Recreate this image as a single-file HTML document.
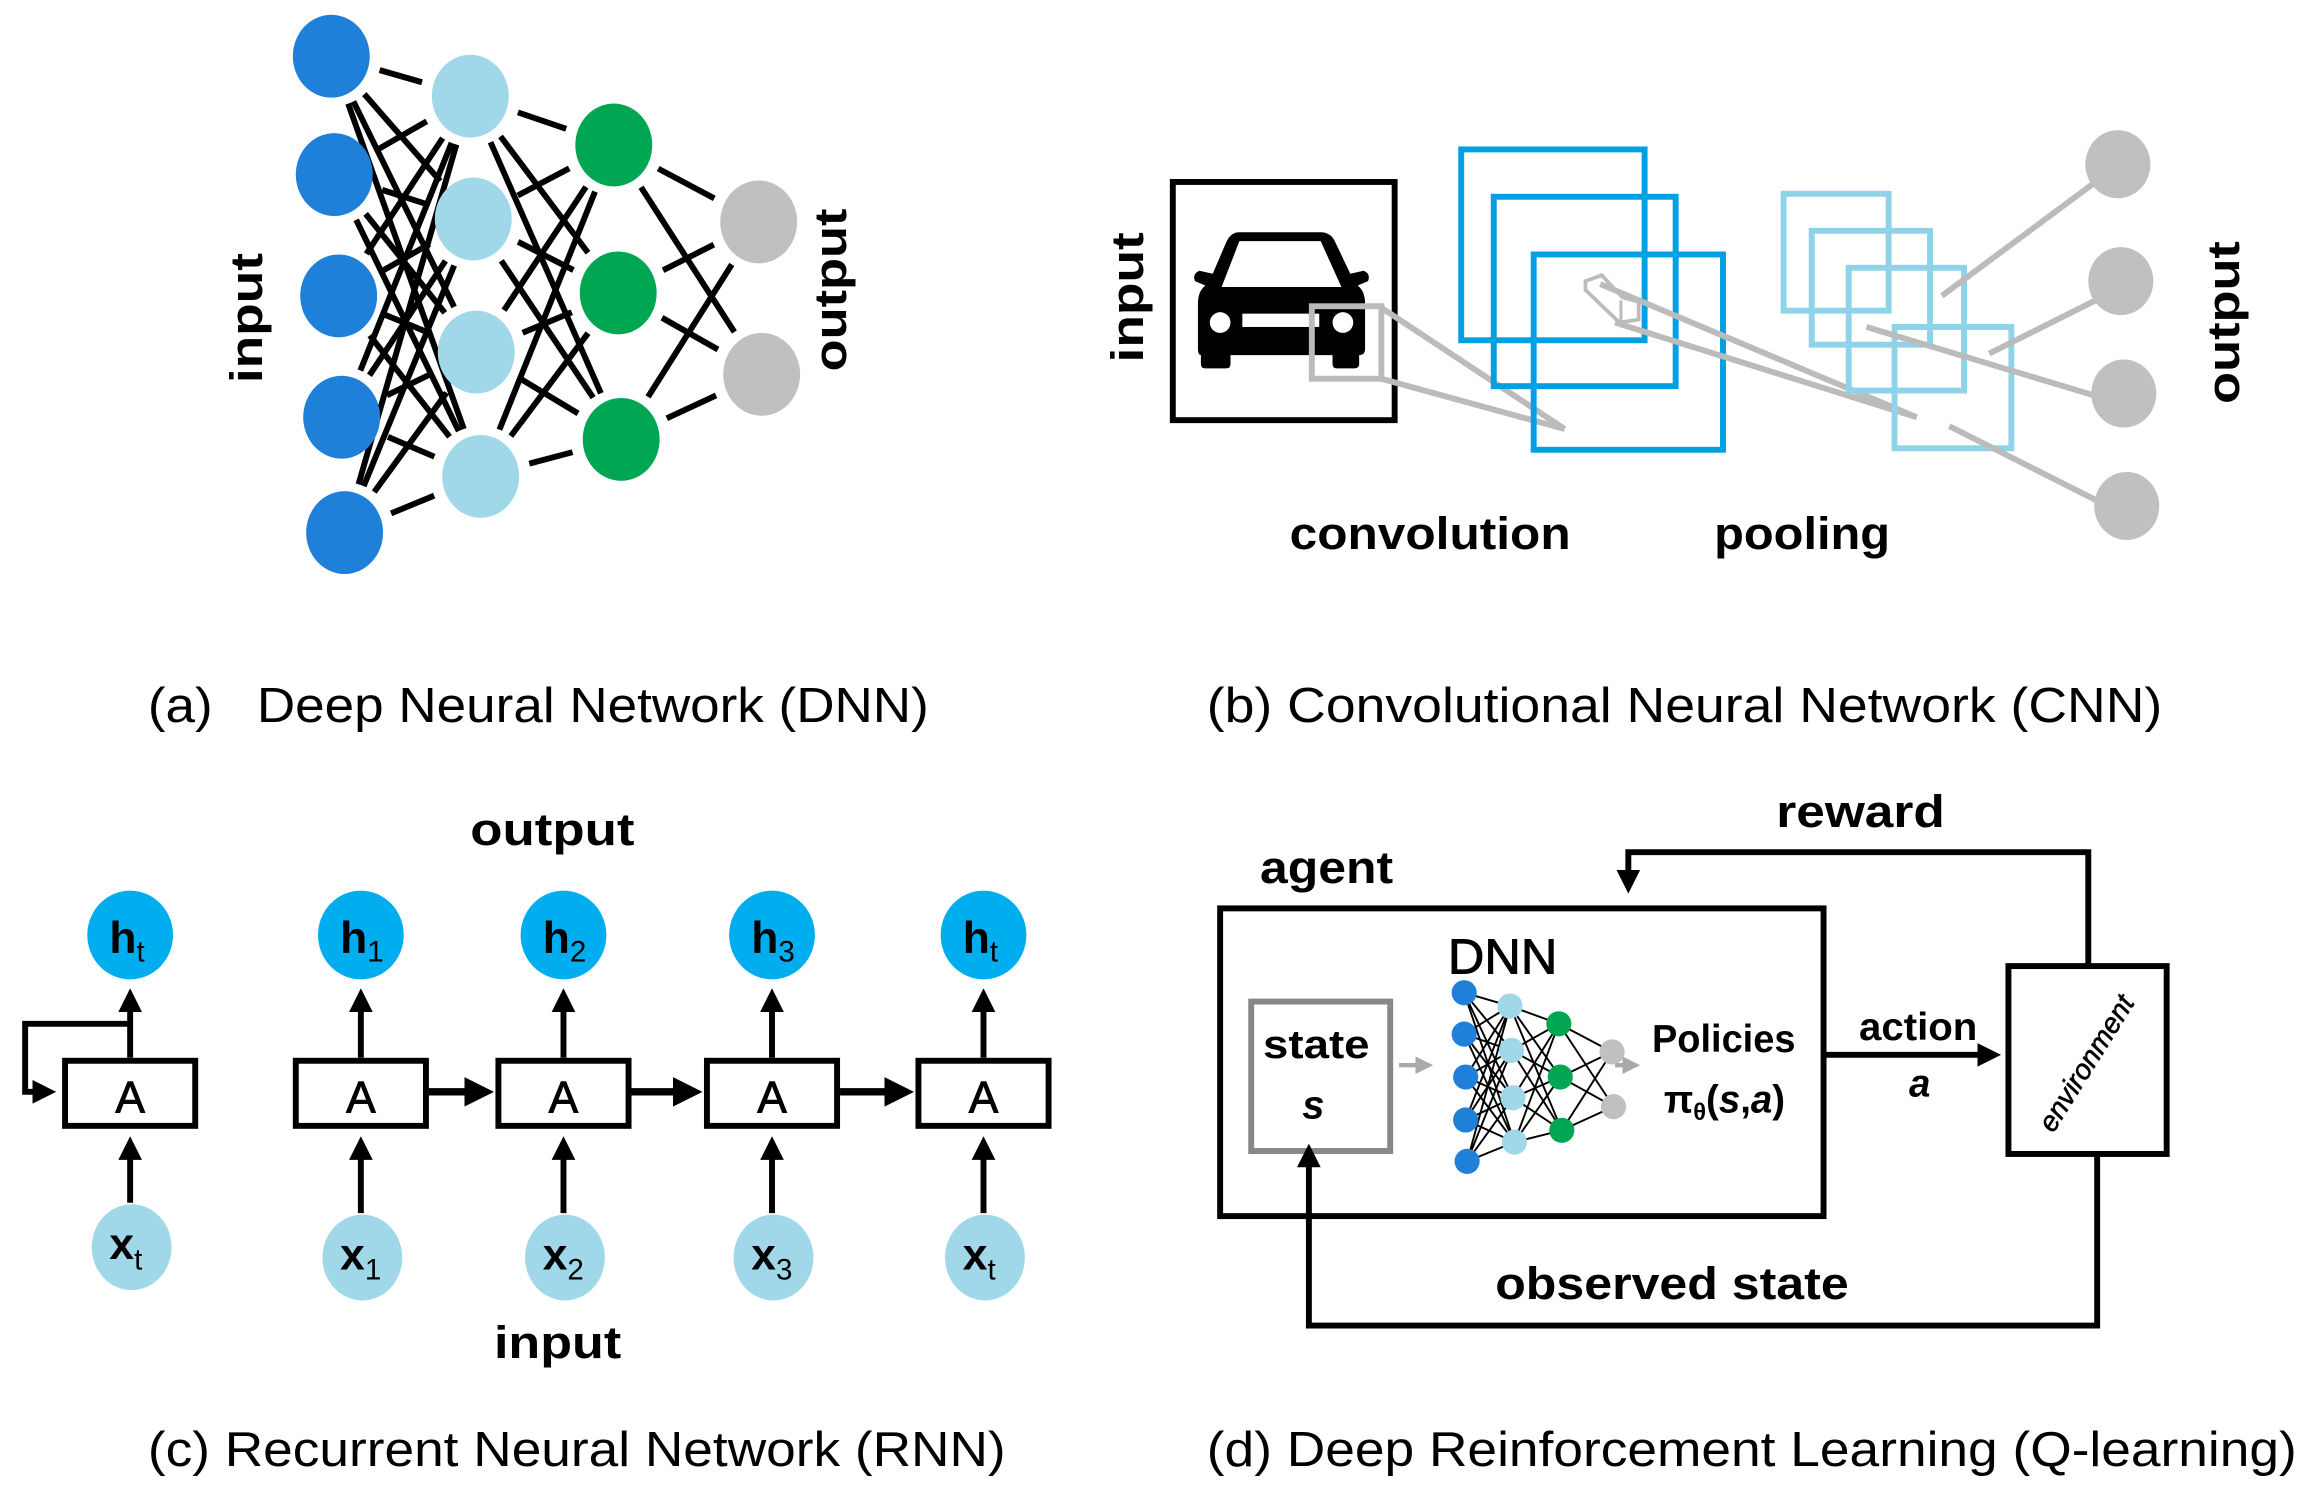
<!DOCTYPE html>
<html><head><meta charset="utf-8"><style>
html,body{margin:0;padding:0;background:#fff;}
svg{display:block;}
text{font-family:"Liberation Sans",sans-serif;}
.b{font-weight:bold;}
</style></head><body>
<svg id="s" width="2319" height="1512" viewBox="0 0 1568 1022" preserveAspectRatio="none" xmlns="http://www.w3.org/2000/svg">
<defs>
<marker id="ah" markerWidth="4" markerHeight="4" refX="3" refY="2" orient="auto" markerUnits="strokeWidth"><path d="M0,0 L4,2 L0,4 z" fill="#000"/></marker>
<marker id="ag" markerWidth="4" markerHeight="4" refX="3" refY="2" orient="auto" markerUnits="strokeWidth"><path d="M0,0 L4,2 L0,4 z" fill="#aaa"/></marker>
</defs>
<g id="dnn"></g>
<g id="mini"></g>
<!-- DNN labels -->
<text class="b" font-size="31" transform="translate(177,215) rotate(-90)" text-anchor="middle" textLength="88" lengthAdjust="spacingAndGlyphs">input</text>
<text class="b" font-size="31" transform="translate(572,196) rotate(-90)" text-anchor="middle" textLength="110" lengthAdjust="spacingAndGlyphs">output</text>
<text x="100" y="488" font-size="33" textLength="528" lengthAdjust="spacingAndGlyphs" xml:space="preserve">(a)   Deep Neural Network (DNN)</text>

<!-- CNN -->
<text class="b" font-size="31" transform="translate(773,201) rotate(-90)" text-anchor="middle" textLength="88" lengthAdjust="spacingAndGlyphs">input</text>
<rect x="793" y="123" width="150" height="161" fill="none" stroke="#000" stroke-width="4"/>
<!-- car -->
<path d="M838,157 L893,157 Q900,157 903,164 L913,185 L922,183 Q927,185 925,190 L918,193 Q923,197 923,205 L923,236 Q923,240 919,240 L919,246 Q919,249 915,249 L904,249 Q901,249 901,246 L901,240 L832,240 L832,246 Q832,249 829,249 L815,249 Q812,249 812,246 L812,240 Q810,240 810,236 L810,205 Q810,197 815,193 L808,190 Q806,185 811,183 L820,185 L829,164 Q832,157 838,157 Z" fill="#000"/>
<path d="M838,163 L893,163 L907,194 L826,194 Z" fill="#fff"/>
<circle cx="825" cy="218" r="7" fill="#fff"/>
<circle cx="908" cy="218" r="7" fill="#fff"/>
<rect x="840" y="212" width="52" height="9" fill="#fff"/>
<rect x="887" y="207" width="47" height="49" fill="none" stroke="#bbb" stroke-width="4"/>
<g stroke="#bbb" stroke-width="4" fill="none">
<line x1="934" y1="208" x2="1058" y2="290"/>
<line x1="934" y1="256" x2="1058" y2="290"/>
</g>
<g fill="none" stroke="#00a0e3" stroke-width="4">
<rect x="988" y="101" width="124" height="129"/>
<rect x="1010" y="133" width="123" height="128"/>
<rect x="1037" y="172" width="128" height="132"/>
</g>
<path d="M1072,190 L1083,186 L1097,201 L1108,204 L1108,216 L1095,218 L1072,196 Z" fill="#fff" stroke="#bbb" stroke-width="2.5"/>
<line x1="1096" y1="203" x2="1096" y2="218" stroke="#bbb" stroke-width="2"/>
<g stroke="#bbb" stroke-width="4">
<line x1="1082" y1="192" x2="1296" y2="282"/>
<line x1="1092" y1="218" x2="1296" y2="282"/>
</g>
<g fill="none" stroke="#8fd3e8" stroke-width="4">
<rect x="1206" y="131" width="71" height="79"/>
<rect x="1225" y="156" width="80" height="77"/>
<rect x="1250" y="181" width="78" height="83"/>
<rect x="1281" y="221" width="79" height="82"/>
</g>
<g stroke="#bbb" stroke-width="4">
<line x1="1313" y1="200" x2="1425" y2="117"/>
<line x1="1345" y1="239" x2="1427" y2="198"/>
<line x1="1262" y1="221" x2="1425" y2="270"/>
<line x1="1318" y1="288" x2="1427" y2="343"/>
</g>
<g fill="#c0c0c0">
<ellipse cx="1432" cy="111" rx="22" ry="23"/>
<ellipse cx="1434" cy="190" rx="22" ry="23"/>
<ellipse cx="1436" cy="266" rx="22" ry="23"/>
<ellipse cx="1438" cy="342" rx="22" ry="23"/>
</g>
<text class="b" font-size="31" transform="translate(1514,218) rotate(-90)" text-anchor="middle" textLength="110" lengthAdjust="spacingAndGlyphs">output</text>
<text class="b" x="872" y="371" font-size="31" textLength="190" lengthAdjust="spacingAndGlyphs">convolution</text>
<text class="b" x="1159" y="371" font-size="31" textLength="119" lengthAdjust="spacingAndGlyphs">pooling</text>
<text x="816" y="488" font-size="33" textLength="646" lengthAdjust="spacingAndGlyphs">(b) Convolutional Neural Network (CNN)</text>

<!-- RNN -->
<text class="b" x="318" y="571" font-size="31" textLength="111" lengthAdjust="spacingAndGlyphs">output</text>
<text class="b" x="334" y="918" font-size="31" textLength="86" lengthAdjust="spacingAndGlyphs">input</text>
<g id="rnn"></g>
<text x="100" y="991" font-size="33" textLength="580" lengthAdjust="spacingAndGlyphs">(c) Recurrent Neural Network (RNN)</text>

<!-- DRL -->
<text class="b" x="1201" y="559" font-size="31" textLength="114" lengthAdjust="spacingAndGlyphs">reward</text>
<text class="b" x="852" y="597" font-size="31" textLength="90" lengthAdjust="spacingAndGlyphs">agent</text>
<rect x="825" y="614" width="408" height="208" fill="none" stroke="#000" stroke-width="4"/>
<rect x="846" y="677" width="94" height="101" fill="none" stroke="#888" stroke-width="4"/>
<text class="b" x="854" y="715" font-size="27" textLength="72" lengthAdjust="spacingAndGlyphs">state</text>
<text class="b" x="888" y="756" font-size="27" font-style="italic" text-anchor="middle">s</text>
<text x="979" y="658" font-size="33" textLength="74" lengthAdjust="spacingAndGlyphs" stroke="#000" stroke-width="0.6">DNN</text>
<line x1="946" y1="720" x2="966" y2="720" stroke="#aaa" stroke-width="3" marker-end="url(#ag)"/>
<line x1="1092" y1="720" x2="1106" y2="720" stroke="#aaa" stroke-width="3" marker-end="url(#ag)"/>
<text class="b" x="1117" y="711" font-size="26" textLength="97" lengthAdjust="spacingAndGlyphs">Policies</text>
<text class="b" x="1125" y="752" font-size="26">π<tspan font-size="16" dy="5">θ</tspan><tspan dy="-5">(</tspan><tspan font-style="italic">s</tspan>,<tspan font-style="italic">a</tspan>)</text>
<line x1="1235" y1="713" x2="1349" y2="713" stroke="#000" stroke-width="4" marker-end="url(#ah)"/>
<text class="b" x="1257" y="703" font-size="26" textLength="80" lengthAdjust="spacingAndGlyphs">action</text>
<text class="b" x="1298" y="741" font-size="26" font-style="italic" text-anchor="middle">a</text>
<rect x="1358" y="653" width="107" height="127" fill="none" stroke="#000" stroke-width="4"/>
<text x="0" y="0" font-size="19" font-style="italic" text-anchor="middle" transform="translate(1416,722) rotate(-58)" stroke="#000" stroke-width="0.4">environment</text>
<polyline points="1412,653 1412,576 1101,576 1101,600" fill="none" stroke="#000" stroke-width="4" marker-end="url(#ah)"/>
<polyline points="1418,780 1418,896 885,896 885,777" fill="none" stroke="#000" stroke-width="4" marker-end="url(#ah)"/>
<text class="b" x="1011" y="878" font-size="31" textLength="239" lengthAdjust="spacingAndGlyphs">observed state</text>
<text x="816" y="991" font-size="33" textLength="737" lengthAdjust="spacingAndGlyphs">(d) Deep Reinforcement Learning (Q-learning)</text>
</svg>
<script>
var NS="http://www.w3.org/2000/svg";
function el(p,t,a,txt){var e=document.createElementNS(NS,t);for(var k in a)e.setAttribute(k,a[k]);if(txt!=null)e.textContent=txt;p.appendChild(e);return e;}
var L=[[[224,38],[226,118],[229,200],[231,282],[233,360]],[[318,65],[320,148],[322,238],[325,322]],[[415,98],[418,198],[420,297]],[[513,150],[515,253]]];
var C=["#1f80d9","#a0d8ea","#00a651","#c0c0c0"];
var g=document.getElementById("dnn");
for(var i=0;i<3;i++)for(var a=0;a<L[i].length;a++)for(var b=0;b<L[i+1].length;b++){
 var p=L[i][a],q=L[i+1][b],dx=q[0]-p[0],dy=q[1]-p[1],d=Math.sqrt(dx*dx+dy*dy),s=34/d;
 el(g,"line",{x1:p[0]+dx*s,y1:p[1]+dy*s,x2:q[0]-dx*s,y2:q[1]-dy*s,stroke:"#000","stroke-width":4});}
for(var i=0;i<4;i++)L[i].forEach(function(p){el(g,"ellipse",{cx:p[0],cy:p[1],rx:26,ry:28,fill:C[i]});});
var M=[[[990,671],[990,699],[991,728],[991,757],[992,785]],[[1021,680],[1022,710],[1023,742],[1024,772]],[[1054,692],[1055,728],[1056,764]],[[1090,711],[1091,748]]];
var m=document.getElementById("mini");
for(var i=0;i<3;i++)for(var a=0;a<M[i].length;a++)for(var b=0;b<M[i+1].length;b++){var p=M[i][a],q=M[i+1][b];el(m,"line",{x1:p[0],y1:p[1],x2:q[0],y2:q[1],stroke:"#000","stroke-width":1.3});}
for(var i=0;i<4;i++)M[i].forEach(function(p){el(m,"circle",{cx:p[0],cy:p[1],r:8.5,fill:C[i]});});
var r=document.getElementById("rnn");
var xs=[88,244,381,522,665],hs=["t","1","2","3","t"];
xs.forEach(function(x,i){
 el(r,"rect",{x:x-44,y:717,width:88,height:44,fill:"none",stroke:"#000","stroke-width":4});
 el(r,"text",{x:x,y:752,"font-size":30,"text-anchor":"middle",stroke:"#000","stroke-width":0.6},"A");
 el(r,"ellipse",{cx:x,cy:632,rx:29,ry:30,fill:"#00aeef"});
 var t=el(r,"text",{x:x-14,y:644,"font-size":30,"font-weight":"bold"},"h");
 el(t,"tspan",{"font-size":20,dy:6,"font-weight":"normal"},hs[i]);
 var cy=i==0?843:850;
 el(r,"ellipse",{cx:x+1,cy:cy,rx:27,ry:29,fill:"#a0d8ea"});
 var t2=el(r,"text",{x:x-14,y:cy+8,"font-size":30,"font-weight":"bold"},"x");
 el(t2,"tspan",{"font-size":20,dy:7,"font-weight":"normal"},hs[i]);
 el(r,"line",{x1:x,y1:715,x2:x,y2:672,stroke:"#000","stroke-width":4,"marker-end":"url(#ah)"});
 el(r,"line",{x1:x,y1:cy-30,x2:x,y2:772,stroke:"#000","stroke-width":4,"marker-end":"url(#ah)"});
 if(i>0&&i<4)el(r,"line",{x1:x+46,y1:738,x2:xs[i+1]-52,y2:738,stroke:"#000","stroke-width":5,"marker-end":"url(#ah)"});
});
el(r,"polyline",{points:"88,692 17,692 17,738 34,738",fill:"none",stroke:"#000","stroke-width":4,"marker-end":"url(#ah)"});
</script>
</body></html>
